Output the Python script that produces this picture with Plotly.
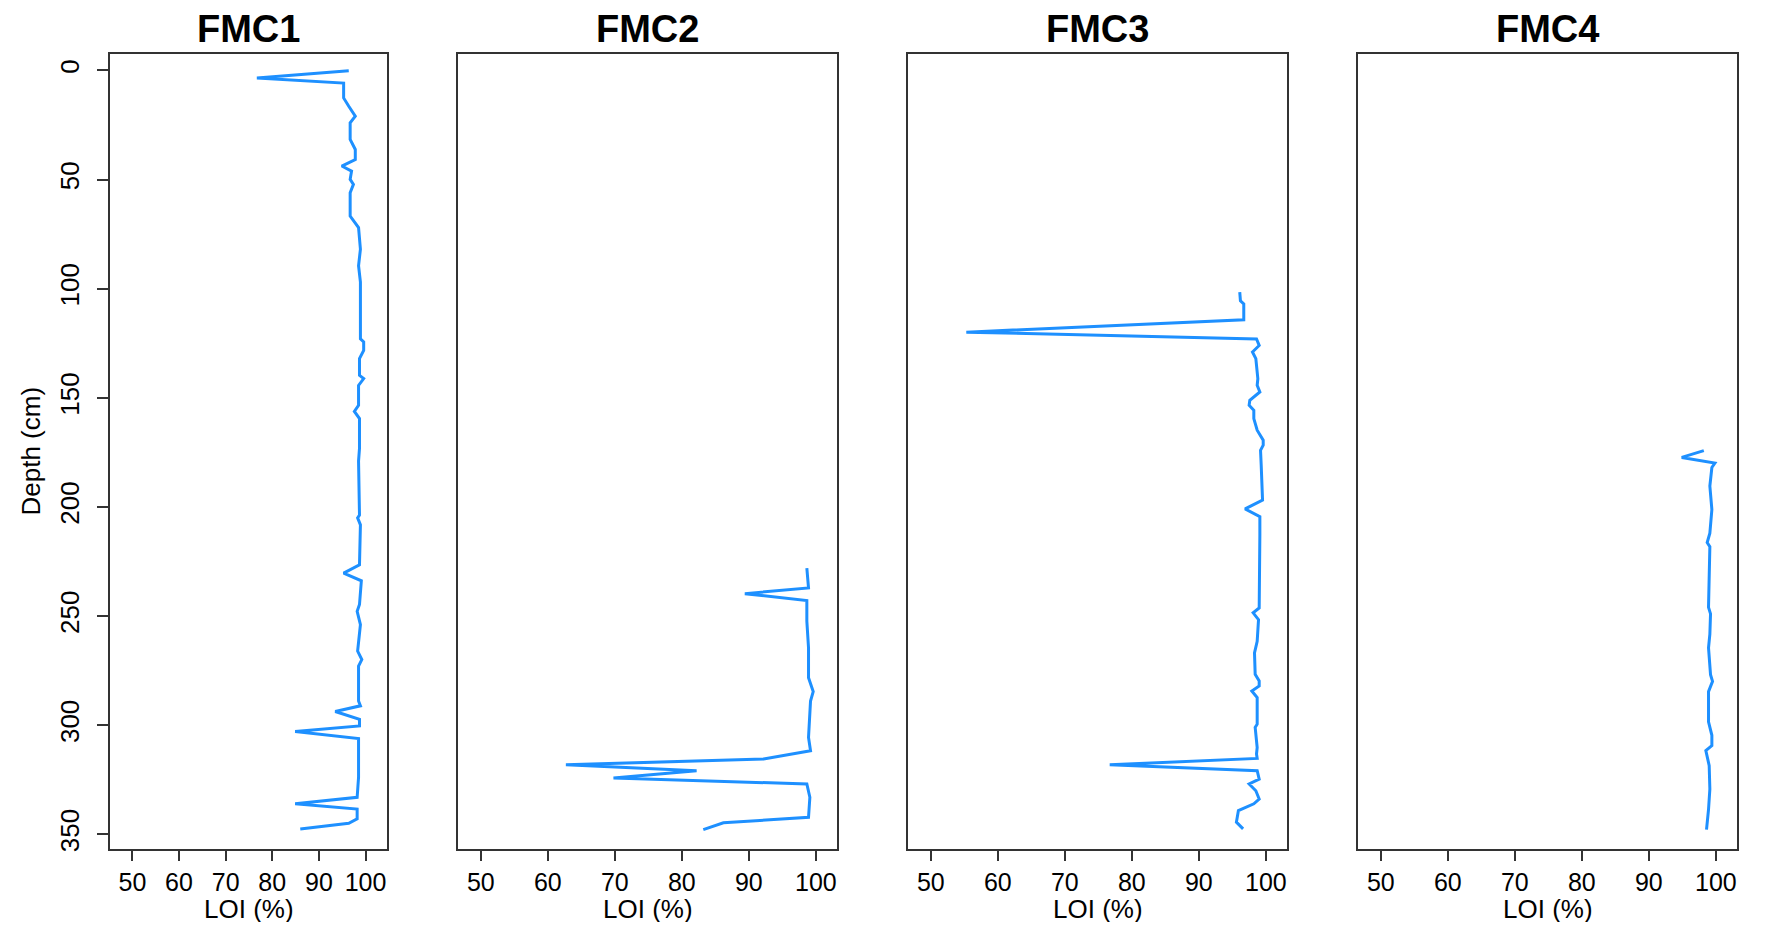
import plotly.graph_objects as go

# ---------------- data ----------------
cores = ["FMC1", "FMC2", "FMC3", "FMC4"]

depth_fmc1 = [0.1, 3.5, 5.8, 12.6, 16.4, 21, 24, 31.6, 36.2, 40.8, 43.8, 46.1, 49.9, 52.2, 56,
              66.7, 72, 81.9, 89.5, 97, 116.9, 123, 124.4, 128.3, 132, 139.7, 141.2, 144.3, 153.4,
              156.2, 159.5, 173.2, 179, 203.7, 205, 208.2, 226.5, 230.3, 233.8, 244.7, 247.8,
              253.9, 266, 269.9, 272.9, 288.9, 291.1, 293.7, 297.3, 300.3, 302.9, 306.1, 323.9,
              333, 336, 338.4, 342.9, 344.9, 347.5]
loi_fmc1 = [96.4, 76.7, 95.3, 95.3, 96.4, 97.8, 96.7, 96.7, 97.8, 97.8, 94.9, 97.0, 96.7, 97.4, 96.7,
            96.7, 98.5, 98.9, 98.5, 98.9, 98.9, 98.9, 99.6, 99.6, 98.7, 98.7, 99.6, 98.5, 98.5,
            97.6, 98.7, 98.7, 98.5, 98.7, 98.3, 98.9, 98.7, 95.3, 99.1, 98.7, 98.2,
            98.9, 98.3, 99.2, 98.5, 98.5, 98.9, 93.5, 98.7, 98.7, 84.9, 98.5, 98.5,
            98.2, 84.9, 98.2, 98.2, 96.4, 86.0]

depth_fmc2 = [228, 237.1, 239.7, 242.9, 252.3, 264.5, 278.2, 284.6, 288.9, 305.6, 311.7, 315.5,
              318.1, 320.8, 324.2, 326.9, 333, 342.2, 344.7, 347.8]
loi_fmc2 = [98.65, 98.9, 89.4, 98.65, 98.65, 98.9, 98.9, 99.6, 99.2, 98.9, 99.2, 92.2,
            62.7, 82.2, 69.8, 98.65, 99.1, 98.9, 86.2, 83.2]

depth_fmc3 = [101.6, 105.5, 107, 114.2, 119.9, 123, 126, 129, 132, 141.2, 144.3, 147.3, 151.1,
              153.4, 155.7, 159.5, 164.8, 169.4, 171.7, 174, 180.8, 196.8, 200.9, 204.4, 212.8,
              228, 234.1, 246.3, 248.5, 251.6, 261.5, 266.8, 276.7, 279.7, 282, 284.3, 287.3,
              299.5, 301, 310.2, 313.2, 315.2, 318.1, 320.8, 324.7, 326.9, 330, 333.8, 336,
              339.1, 344.4, 347.5]
loi_fmc3 = [96.1, 96.2, 96.7, 96.7, 55.3, 98.6, 99.0, 98.0, 98.5, 98.8, 98.7, 99.1, 97.6,
            97.5, 98.2, 98.2, 98.7, 99.6, 99.6, 99.2, 99.3, 99.5, 96.9, 99.1, 99.1,
            99.1, 99.0, 99.0, 98.1, 98.9, 98.7, 98.3, 98.4, 99.0, 99.0, 97.9, 98.7,
            98.7, 98.4, 98.7, 98.6, 98.7, 76.7, 98.7, 99.0, 97.5, 98.5, 99.0, 98.2,
            95.9, 95.6, 96.6]

depth_fmc4 = [174.2, 177.3, 179.9, 181.9, 190.4, 201.2, 212, 216.3, 218.2, 246, 249, 258.3,
              264.5, 270.7, 276.8, 279.9, 284.6, 298.4, 304.6, 309.3, 311.6, 318.5, 329.3,
              338.6, 347.8]
loi_fmc4 = [98.2, 94.9, 99.85, 99.4, 99.1, 99.4, 99.1, 98.7, 99.1, 98.9, 99.2, 99.1,
            98.9, 99.1, 99.2, 99.5, 98.9, 98.9, 99.4, 99.4, 98.5, 99.0, 99.1,
            98.9, 98.6]

x_ticks = [50, 60, 70, 80, 90, 100]
y_ticks = [0, 50, 100, 150, 200, 250, 300, 350]
x_title = "LOI (%)"
y_title = "Depth (cm)"

depths = [depth_fmc1, depth_fmc2, depth_fmc3, depth_fmc4]
lois = [loi_fmc1, loi_fmc2, loi_fmc3, loi_fmc4]

# ---------------- layout ----------------
OFF = 8  # page body margin
W, H = 1769 - 2 * OFF, 930 - 2 * OFF
panels_px = [(110, 387), (458, 837), (908, 1287), (1358, 1737)]
x_ranges = [[45.2, 104.6], [46.6, 103.15], [46.6, 103.15], [46.6, 103.15]]
y_top_px, y_bot_px = 54, 852
y_dom = [1 - (y_bot_px - OFF) / H, 1 - (y_top_px - OFF) / H]
y_range = [356.8, -7.6]


def px_x(p):
    return (p - OFF) / W


def px_y(p):
    return 1 - (p - OFF) / H


FONT = "Liberation Sans, Arial, sans-serif"
LINE_COL = "#1E90FF"
FRAME_COL = "#333333"

fig = go.Figure()
layout = dict(
    width=W, height=H,
    margin=dict(l=0, r=0, t=0, b=0),
    paper_bgcolor="white", plot_bgcolor="white",
    showlegend=False,
    font=dict(family=FONT, color="black"),
)

annotations = []
for i, (name, d, v) in enumerate(zip(cores, depths, lois)):
    xa = "x" if i == 0 else f"x{i+1}"
    ya = "y" if i == 0 else f"y{i+1}"
    fig.add_trace(go.Scatter(x=v, y=d, mode="lines", xaxis=xa, yaxis=ya,
                             line=dict(color=LINE_COL, width=3)))
    l, r = panels_px[i]
    xkey = "xaxis" if i == 0 else f"xaxis{i+1}"
    ykey = "yaxis" if i == 0 else f"yaxis{i+1}"
    layout[xkey] = dict(
        domain=[px_x(l), px_x(r)], anchor=ya, range=x_ranges[i],
        tickmode="array", tickvals=x_ticks, ticktext=[str(t) for t in x_ticks],
        ticks="outside", ticklen=10, tickwidth=1.5, tickcolor=FRAME_COL,
        showline=True, linecolor=FRAME_COL, linewidth=2, mirror=True,
        showgrid=False, zeroline=False,
        tickfont=dict(family=FONT, size=25, color="black"),
    )
    layout[ykey] = dict(
        domain=y_dom, anchor=xa, range=y_range,
        tickmode="array", tickvals=y_ticks, ticktext=[str(t) for t in y_ticks],
        ticks="outside" if i == 0 else "", ticklen=11, tickwidth=1.5, tickcolor=FRAME_COL,
        showticklabels=(i == 0), tickangle=-90, ticklabelstandoff=8,
        showline=True, linecolor=FRAME_COL, linewidth=2, mirror=True,
        showgrid=False, zeroline=False,
        tickfont=dict(family=FONT, size=26, color="black"),
    )
    cx = px_x((l + r) / 2)
    annotations.append(dict(text=name, x=cx, y=px_y(29), xref="paper", yref="paper",
                            xanchor="center", yanchor="middle", showarrow=False,
                            font=dict(family=FONT, size=38, color="black", weight="bold")))
    annotations.append(dict(text=x_title, x=cx, y=px_y(912), xref="paper", yref="paper",
                            xanchor="center", yanchor="middle", showarrow=False,
                            font=dict(family=FONT, size=26, color="black")))

annotations.append(dict(text=y_title, x=px_x(31), y=px_y(453), xref="paper", yref="paper",
                        xanchor="center", yanchor="middle", showarrow=False, textangle=-90,
                        font=dict(family=FONT, size=26, color="black")))
layout["annotations"] = annotations
fig.update_layout(**layout)

fig.write_html("out.html")
